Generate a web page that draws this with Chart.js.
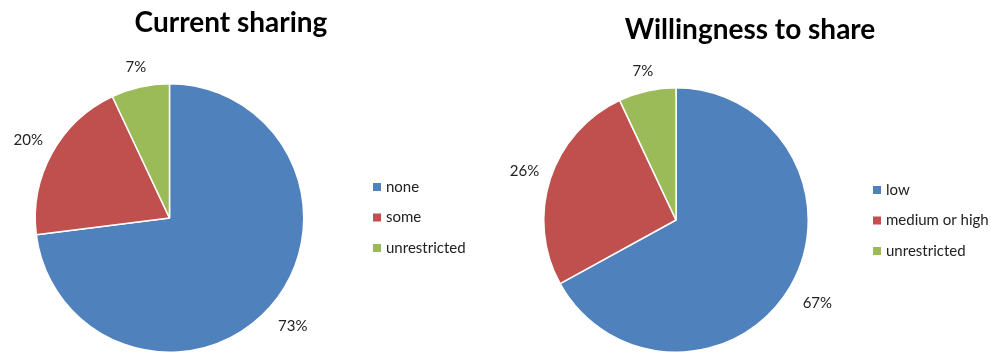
<!DOCTYPE html>
<html>
<head>
<meta charset="utf-8">
<script src="https://cdn.jsdelivr.net/npm/chart.js@4.4.1/dist/chart.umd.min.js"></script>
<style>
    body { margin: 0; background: #fff; }
    #wrap { position: relative; width: 991px; height: 354px; overflow: hidden; }
    .box { position: absolute; top: 0; height: 354px; }
    .titulo { position: absolute; top: 4px; font: bold 28px Lato, "Open Sans", sans-serif; color: #000; white-space: nowrap; transform: translateX(-50%); }
</style>
</head>
<body>
<div id="wrap">
    <div class="box" style="left:0;width:495px"><canvas id="canvas_atual"></canvas></div>
    <div class="box" style="left:495px;width:496px"><canvas id="canvas_vontade"></canvas></div>
    <div class="titulo" style="left:231px">Current sharing</div>
    <div class="titulo" style="left:750px;top:11px">Willingness to share</div>
</div>
<script>
    // dados das duas pizzas (percentuais)
    var labelAtual = ['none', 'some', 'unrestricted'];
    var dataAtual = [73, 20, 7];

    var labelVontade = ['low', 'medium or high', 'unrestricted'];
    var dataVontade = [67, 26, 7];

    var cores = ['#4F81BD', '#C0504D', '#9BBB59'];

    // escreve o % fora de cada fatia e a legenda ao lado da pizza
    const rotulosPlugin = {
        id: 'rotulos',
        afterDatasetsDraw(chart, args, opts) {
            const ctx = chart.ctx;
            const meta = chart.getDatasetMeta(0);
            const data = chart.data.datasets[0].data;
            ctx.save();
            ctx.font = '15px Lato, "Open Sans", sans-serif';
            ctx.fillStyle = '#222';
            ctx.textAlign = 'center';
            ctx.textBaseline = 'middle';
            meta.data.forEach((arc, i) => {
                const meio = (arc.startAngle + arc.endAngle) / 2;
                const r = arc.outerRadius + opts.distancia[i];
                ctx.fillText(data[i] + '%', arc.x + Math.cos(meio) * r, arc.y + Math.sin(meio) * r);
            });

            ctx.textAlign = 'left';
            chart.data.labels.forEach((nome, i) => {
                const y = opts.legendaY + i * 30.5;
                ctx.fillStyle = cores[i];
                ctx.fillRect(opts.legendaX, y - 4, 8, 8);
                ctx.fillStyle = '#222';
                ctx.fillText(nome, opts.legendaX + 13, y);
            });
            ctx.restore();
        }
    };

    function criarPizza(canvas, labels, data, padding, rotulos) {
        return new Chart(document.getElementById(canvas), {
            type: 'pie',
            data: {
                labels: labels,
                datasets: [{
                    data: data,
                    backgroundColor: cores,
                    borderColor: '#fff',
                    borderWidth: 1.5
                }]
            },
            options: {
                responsive: true,
                maintainAspectRatio: false,
                animation: false,
                layout: { padding: padding },
                plugins: {
                    legend: { display: false },
                    tooltip: { enabled: false },
                    rotulos: rotulos
                }
            },
            plugins: [rotulosPlugin]
        });
    }

    var graficoAtual = criarPizza('canvas_atual', labelAtual, dataAtual,
        { left: 34, right: 190, top: 83, bottom: 1 },
        { distancia: [30, 27, 20], legendaX: 373, legendaY: 187 });

    var graficoVontade = criarPizza('canvas_vontade', labelVontade, dataVontade,
        { left: 48, right: 182, top: 87, bottom: 1 },
        { distancia: [32, 27, 20], legendaX: 378, legendaY: 190 });
</script>
</body>
</html>
